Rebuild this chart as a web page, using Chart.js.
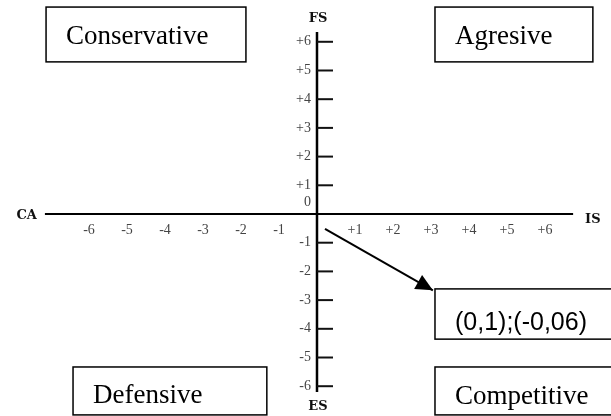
<!DOCTYPE html>
<html lang="en">
<head>
    <meta charset="UTF-8">
    <title>SPACE Matrix</title>
    <script src="https://cdn.jsdelivr.net/npm/chart.js"></script>
    <style>
        body {
            margin: 0;
            background: #ffffff;
        }
        canvas {
            display: block;
        }
    </style>
</head>
<body>
    <canvas id="spaceChart" width="611" height="416"></canvas>

    <script>
        // tick values and labels
        const yTicks = [6, 5, 4, 3, 2, 1, 0, -1, -2, -3, -4, -5, -6];
        const yTickLabels = ['+6', '+5', '+4', '+3', '+2', '+1', '0', '-1', '-2', '-3', '-4', '-5', '-6'];
        const xTicks = [-6, -5, -4, -3, -2, -1, 1, 2, 3, 4, 5, 6];
        const xTickLabels = ['-6', '-5', '-4', '-3', '-2', '-1', '+1', '+2', '+3', '+4', '+5', '+6'];

        // axis lines (data units)
        const hAxisX = [-7.16, 6.74];
        const vAxisY = [6.34, -6.2];
        const axisNames = ['FS', 'ES', 'CA', 'IS'];

        // quadrant names and the result point
        const quadrants = ['Conservative', 'Agresive', 'Defensive', 'Competitive'];
        const resultLabel = '(0,1);(-0,06)';
        const arrowFrom = [0.21, -0.52];
        const arrowTo = [3.05, -2.66];

        // boxes in data units: [x1, x2, y1, y2, text baseline offset px]
        const boxes = [
            { text: quadrants[0], x: [-7.13, -1.87], y: [7.21, 5.30], base: 37, font: '27px "Liberation Serif"' },
            { text: quadrants[1], x: [3.105, 7.26], y: [7.21, 5.30], base: 37, font: '27px "Liberation Serif"' },
            { text: quadrants[2], x: [-6.42, -1.32], y: [-5.33, -7.0], base: 36, font: '27px "Liberation Serif"' },
            { text: quadrants[3], x: [3.105, 7.97], y: [-5.33, -7.0], base: 37, font: '27px "Liberation Serif"' },
            { text: resultLabel, x: [3.105, 7.97], y: [-2.61, -4.36], base: 41, font: '25px "Liberation Sans"' }
        ];

        const spacePlugin = {
            id: 'spaceDecor',
            afterDatasetsDraw(chart) {
                const ctx = chart.ctx;
                const sx = chart.scales.x;
                const sy = chart.scales.y;
                const x0 = sx.getPixelForValue(0);
                const y0 = sy.getPixelForValue(0);

                ctx.save();

                // tick marks on the vertical axis
                ctx.strokeStyle = '#111';
                ctx.lineWidth = 2;
                yTicks.forEach(v => {
                    if (v === 0) return;
                    const py = sy.getPixelForValue(v);
                    ctx.beginPath();
                    ctx.moveTo(x0, py);
                    ctx.lineTo(x0 + 16, py);
                    ctx.stroke();
                });

                // tick labels
                ctx.fillStyle = '#444';
                ctx.font = '14px "Liberation Serif"';
                ctx.textAlign = 'right';
                ctx.textBaseline = 'middle';
                yTicks.forEach((v, i) => {
                    const py = v === 0 ? y0 - 12 : sy.getPixelForValue(v);
                    ctx.fillText(yTickLabels[i], x0 - 6, py);
                });
                ctx.textAlign = 'center';
                xTicks.forEach((v, i) => {
                    ctx.fillText(xTickLabels[i], sx.getPixelForValue(v), y0 + 16);
                });

                // axis names
                ctx.fillStyle = '#111';
                ctx.font = 'bold 13px "DejaVu Serif"';
                ctx.textAlign = 'center';
                ctx.fillText(axisNames[0], x0 + 1, sy.getPixelForValue(vAxisY[0]) - 13);
                ctx.fillText(axisNames[1], x0 + 1, sy.getPixelForValue(vAxisY[1]) + 15);
                ctx.textAlign = 'right';
                ctx.fillText(axisNames[2], sx.getPixelForValue(hAxisX[0]) - 8, y0 + 2);
                ctx.textAlign = 'left';
                ctx.fillText(axisNames[3], sx.getPixelForValue(hAxisX[1]) + 12, y0 + 6);

                // arrow head
                const ax = sx.getPixelForValue(arrowFrom[0]);
                const ay = sy.getPixelForValue(arrowFrom[1]);
                const bx = sx.getPixelForValue(arrowTo[0]);
                const by = sy.getPixelForValue(arrowTo[1]);
                const ang = Math.atan2(by - ay, bx - ax);
                ctx.fillStyle = '#000';
                ctx.beginPath();
                ctx.moveTo(bx, by);
                ctx.lineTo(bx - 17 * Math.cos(ang) + 8 * Math.sin(ang), by - 17 * Math.sin(ang) - 8 * Math.cos(ang));
                ctx.lineTo(bx - 17 * Math.cos(ang) - 8 * Math.sin(ang), by - 17 * Math.sin(ang) + 8 * Math.cos(ang));
                ctx.closePath();
                ctx.fill();

                // boxes
                boxes.forEach(b => {
                    const left = sx.getPixelForValue(b.x[0]);
                    const right = sx.getPixelForValue(b.x[1]);
                    const top = sy.getPixelForValue(b.y[0]);
                    const bottom = sy.getPixelForValue(b.y[1]);
                    ctx.fillStyle = '#fff';
                    ctx.fillRect(left, top, right - left, bottom - top);
                    ctx.strokeStyle = '#000';
                    ctx.lineWidth = 1.5;
                    ctx.strokeRect(left, top, right - left, bottom - top);
                    ctx.fillStyle = '#000';
                    ctx.font = b.font;
                    ctx.textAlign = 'left';
                    ctx.textBaseline = 'alphabetic';
                    ctx.fillText(b.text, left + 20, top + b.base);
                });

                ctx.restore();
            }
        };

        const lineStyle = {
            showLine: true,
            borderColor: '#000',
            borderWidth: 2,
            pointRadius: 0,
            fill: false
        };

        let spaceChart = new Chart(document.getElementById('spaceChart').getContext('2d'), {
            type: 'scatter',
            data: {
                datasets: [{
                    label: 'CA - IS',
                    data: hAxisX.map(v => ({ x: v, y: 0 })),
                    ...lineStyle
                }, {
                    label: 'FS - ES',
                    data: vAxisY.map(v => ({ x: 0, y: v })),
                    ...lineStyle,
                    borderWidth: 2.5
                }, {
                    label: resultLabel,
                    data: [{ x: arrowFrom[0], y: arrowFrom[1] }, { x: arrowTo[0], y: arrowTo[1] }],
                    ...lineStyle
                }]
            },
            options: {
                responsive: false,
                animation: false,
                layout: { padding: 0 },
                plugins: {
                    legend: { display: false },
                    tooltip: { enabled: false }
                },
                scales: {
                    x: { type: 'linear', min: -8.342, max: 7.737, display: false },
                    y: { type: 'linear', min: -7.038, max: 7.456, display: false }
                }
            },
            plugins: [spacePlugin]
        });
    </script>
</body>
</html>
